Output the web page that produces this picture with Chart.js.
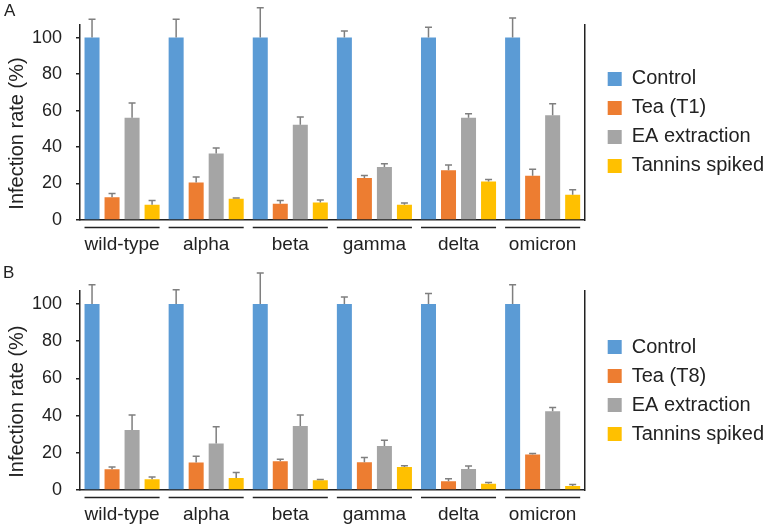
<!DOCTYPE html>
<html>
<head>
<meta charset="utf-8">
<script src="https://cdn.jsdelivr.net/npm/chart.js@4.4.1/dist/chart.umd.min.js"></script>
<style>
  html, body { margin: 0; padding: 0; background: #fff; }
  #wrap { position: relative; width: 766px; height: 530px; overflow: hidden; }
  .panel { position: absolute; left: 0; width: 766px; }
  .letter { position: absolute; font-family: "Liberation Sans", Arial, sans-serif; font-size: 17px; color: #222; }
</style>
</head>
<body>
<div id="wrap">
  <div class="panel" style="top:0;height:260px;"><canvas id="cA" width="766" height="260"></canvas></div>
  <div class="panel" style="top:260px;height:270px;"><canvas id="cB" width="766" height="270"></canvas></div>
  <div class="letter" style="left:4px;top:1px;">A</div>
  <div class="letter" style="left:3px;top:263px;">B</div>
</div>
<script>
// ---- Data ----
const categories = ['wild-type', 'alpha', 'beta', 'gamma', 'delta', 'omicron'];
const yTicks = [0, 20, 40, 60, 80, 100];

// Panel A
const controlA = [100, 100, 100, 100, 100, 100];
const controlErrA = [10, 10, 16.4, 3.6, 5.6, 10.7];
const teaT1 = [12.5, 20.6, 8.9, 23, 27.3, 24.2];
const teaT1Err = [2, 3, 1.8, 1.4, 2.9, 3.6];
const eaA = [56.1, 36.5, 52.2, 29.1, 56.1, 57.4];
const eaErrA = [8, 3, 4.3, 1.8, 2.2, 6.3];
const tanninsA = [8.3, 11.6, 9.6, 8.3, 21.1, 13.8];
const tanninsErrA = [2.4, 0.4, 1.4, 1, 1.1, 2.8];

// Panel B
const controlB = [100, 100, 100, 100, 100, 100];
const controlErrB = [10.4, 7.7, 16.7, 3.8, 5.7, 10.4];
const teaT8 = [11.2, 14.8, 15.5, 14.9, 4.7, 19.1];
const teaT8Err = [1.2, 3.4, 1.1, 2.6, 1.4, 0.5];
const eaB = [32.2, 25, 34.4, 23.6, 11.3, 42.4];
const eaErrB = [8.1, 9, 5.9, 3.2, 1.6, 2];
const tanninsB = [5.8, 6.5, 5.2, 12.4, 3.4, 2.2];
const tanninsErrB = [1.2, 2.9, 0.5, 0.6, 0.6, 0.7];

const FONT = '"Liberation Sans", Arial, sans-serif';
const INK = '#222';
const colors = ['#5B9BD5', '#ED7D31', '#A5A5A5', '#FFC000'];

const errorBarPlugin = {
  id: 'errorBars',
  afterDatasetsDraw(chart) {
    const ctx = chart.ctx;
    const yScale = chart.scales.y;
    ctx.save();
    ctx.strokeStyle = '#7f7f7f';
    ctx.lineWidth = 1.5;
    chart.data.datasets.forEach((ds, i) => {
      const meta = chart.getDatasetMeta(i);
      meta.data.forEach((bar, j) => {
        const top = yScale.getPixelForValue(ds.data[j] + ds.errors[j]);
        ctx.beginPath();
        ctx.moveTo(bar.x, bar.y);
        ctx.lineTo(bar.x, top);
        ctx.moveTo(bar.x - 3.5, top);
        ctx.lineTo(bar.x + 3.5, top);
        ctx.stroke();
      });
    });
    ctx.restore();
  }
};

const groupLinePlugin = {
  id: 'groupLines',
  afterDraw(chart) {
    const ctx = chart.ctx;
    const first = chart.getDatasetMeta(0).data;
    const last = chart.getDatasetMeta(chart.data.datasets.length - 1).data;
    const y = chart.chartArea.bottom + 7.5;
    ctx.save();
    ctx.strokeStyle = INK;
    ctx.lineWidth = 1.5;
    first.forEach((b, j) => {
      const l = b.x - b.width / 2;
      const r = last[j].x + last[j].width / 2;
      ctx.beginPath();
      ctx.moveTo(l, y);
      ctx.lineTo(r, y);
      ctx.stroke();
    });
    ctx.restore();
  }
};

function makeChart(id, teaLabel, series, errs, topPad) {
  const labels = ['Control', teaLabel, 'EA extraction', 'Tannins spiked'];
  return new Chart(document.getElementById(id), {
    type: 'bar',
    data: {
      labels: categories,
      datasets: labels.map((lab, i) => ({
        label: lab,
        data: series[i],
        errors: errs[i],
        backgroundColor: colors[i],
        borderWidth: 0,
        categoryPercentage: 0.952,
        barPercentage: 0.75
      }))
    },
    options: {
      responsive: false,
      animation: false,
      devicePixelRatio: 1,
      layout: { padding: { top: topPad, left: 0, right: -8, bottom: 0 } },
      plugins: {
        tooltip: { enabled: false },
        legend: {
          position: 'right',
          align: 'center',
          fullSize: false,
          maxWidth: 400,
          labels: {
            boxWidth: 14,
            boxHeight: 14,
            padding: 9,
            color: INK,
            font: { family: FONT, size: 20 }
          }
        }
      },
      scales: {
        x: {
          grid: { display: false, drawTicks: false },
          border: { display: true, color: INK, width: 1.5 },
          ticks: { color: INK, padding: 13, font: { family: FONT, size: 19 }, maxRotation: 0 },
          afterFit(s) { s.height = 40; }
        },
        y: {
          min: 0,
          max: 107,
          afterBuildTicks(s) { s.ticks = yTicks.map(v => ({ value: v })); },
          grid: { drawOnChartArea: false, drawTicks: true, tickLength: 4, color: INK, lineWidth: 1.5 },
          border: { display: true, color: INK, width: 1.5 },
          ticks: { color: INK, padding: 14, font: { family: FONT, size: 18 } },
          title: { display: true, text: 'Infection rate (%)    ', color: INK, font: { family: FONT, size: 20 }, padding: { top: 5, bottom: 0 } },
          afterFit(s) { s.width = 80; }
        },
        y2: {
          position: 'right',
          display: true,
          grid: { display: false, drawTicks: false },
          ticks: { display: false },
          border: { display: true, color: INK, width: 1.5 },
          afterFit(s) { s.width = 14; }
        }
      }
    },
    plugins: [errorBarPlugin, groupLinePlugin]
  });
}

makeChart('cA', 'Tea (T1)',
  [controlA, teaT1, eaA, tanninsA],
  [controlErrA, teaT1Err, eaErrA, tanninsErrA], 21);
makeChart('cB', 'Tea (T8)',
  [controlB, teaT8, eaB, tanninsB],
  [controlErrB, teaT8Err, eaErrB, tanninsErrB], 31);
</script>
</body>
</html>
